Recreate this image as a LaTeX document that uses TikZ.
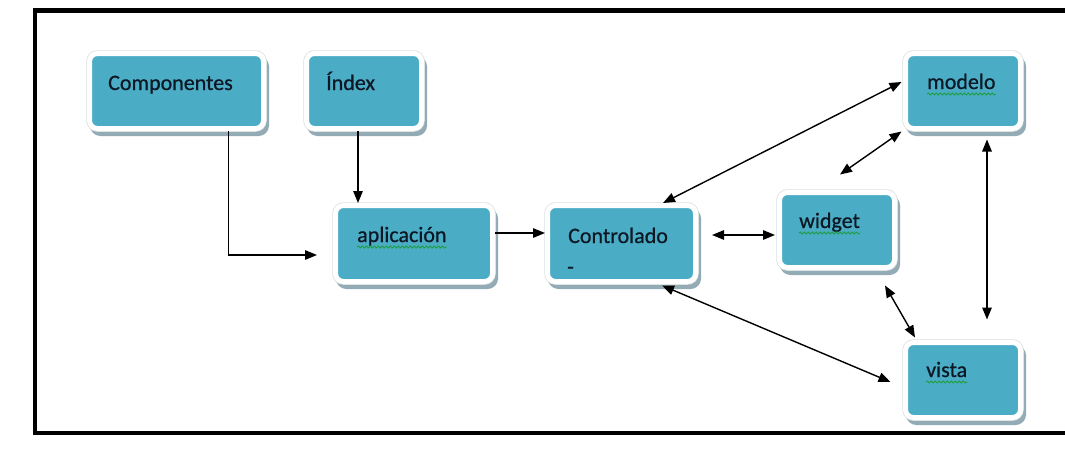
\documentclass[tikz,border=0pt]{standalone}
\usepackage{fontspec}
\setmainfont{Carlito}
\newfontfamily\boxfont{Carlito}[FakeBold=0.7]
\usetikzlibrary{arrows.meta,calc,decorations.pathmorphing}

\definecolor{boxfill}{HTML}{4BACC6}
\definecolor{boxshade}{HTML}{93ABB5}
\definecolor{boxrim}{HTML}{DADFE1}
\definecolor{inktext}{HTML}{0C1824}
\definecolor{spellgreen}{HTML}{1E9E3A}

\tikzset{
  box/.style={rectangle, rounded corners=8pt, inner sep=0pt,
    fill=boxfill, draw=white, line width=5pt,
    preaction={draw=boxshade, fill=boxshade, line width=5pt,
               transform canvas={shift={(3pt,-5pt)}}},
    preaction={draw=boxrim, line width=6.5pt}},
  lbl/.style={anchor=base west, inner sep=0pt, text=inktext,
    font=\boxfont\fontsize{22pt}{26pt}\selectfont},
  arr/.style={-{Triangle[length=12pt,width=9.5pt]}, line width=1.4pt, black},
  biarr/.style={{Triangle[length=12pt,width=9.5pt]}-{Triangle[length=12pt,width=9.5pt]},
    line width=1.4pt, black},
  squiggle/.style={draw=spellgreen, line width=0.8pt,
    decorate, decoration={snake, amplitude=1.1pt, segment length=4pt}},
  frame/.style={line width=4.5pt, black}
}

\begin{document}
\begin{tikzpicture}[x=1pt, y=-1pt]
  \useasboundingbox (0,0) rectangle (1065,455);

  % outer frame, open on the right
  \draw[frame] (1075,10.5) -- (35,10.5) -- (35,433) -- (1075,433);

  % boxes
  \node[box, minimum width=174pt, minimum height=75pt] (comp)   at (176.5,91)  {};
  \node[box, minimum width=115pt, minimum height=75pt] (index)  at (364,91)    {};
  \node[box, minimum width=157pt, minimum height=76pt] (apli)   at (414,243.5) {};
  \node[box, minimum width=148pt, minimum height=76pt] (ctrl)   at (621.5,243.5) {};
  \node[box, minimum width=115pt, minimum height=75pt] (modelo) at (963,91)    {};
  \node[box, minimum width=115pt, minimum height=75pt] (widget) at (837,230)   {};
  \node[box, minimum width=115pt, minimum height=75pt] (vista)  at (963,380)   {};

  % box texts
  \node[lbl] (tcomp)   at (108,90)  {Componentes};
  \node[lbl] (tindex)  at (326,90)  {Índex};
  \node[lbl] (tapli)   at (357,242) {aplicación};
  \node[lbl] (tctrl)   at (568,243) {Controlado};
  \node[lbl] (tctrl2)  at (567,274) {-};
  \node[lbl] (tmodelo) at (927,89)  {modelo};
  \node[lbl] (twidget) at (799,228) {widget};
  \node[lbl] (tvista)  at (926,377) {vista};

  % spell-check underlines
  \foreach \t in {tapli,tmodelo,twidget,tvista}
    \path[squiggle] ($(\t.base west)+(0,5)$) -- ($(\t.base east)+(0,5)$);

  % connectors
  \coordinate (c1) at ($(comp.south)+(52,0)$);
  \draw[arr] (c1) |- ($(apli.west)+(-16,11.5)$);

  \coordinate (i1) at ($(index.south)+(-6,0)$);
  \draw[arr] (i1) -- (i1 |- apli.north);

  \draw[arr] ($(apli.east)+(0,-10.5)$) -- ($(ctrl.west)+(0,-10.5)$);

  \draw[biarr] ($(ctrl.east)+(14,-8.5)$) -- ($(widget.west)+(-2,5)$);
  \draw[biarr] ($(ctrl.north)+(41.5,0)$) -- ($(modelo.west)+(-1.5,-9)$);
  \draw[biarr] ($(widget.north)+(3,-15.5)$) -- ($(modelo.south west)+(-1.5,0.5)$);
  \draw[biarr] ($(modelo.south)+(24,8.5)$) -- ($(vista.north)+(24,-20.5)$);
  \draw[biarr] ($(ctrl.south)+(40.5,1.5)$) -- ($(vista.west)+(-12.5,2)$);
  \draw[biarr] ($(widget.south)+(48,15.5)$) -- ($(vista.north)+(-48,-2.5)$);
\end{tikzpicture}
\end{document}
